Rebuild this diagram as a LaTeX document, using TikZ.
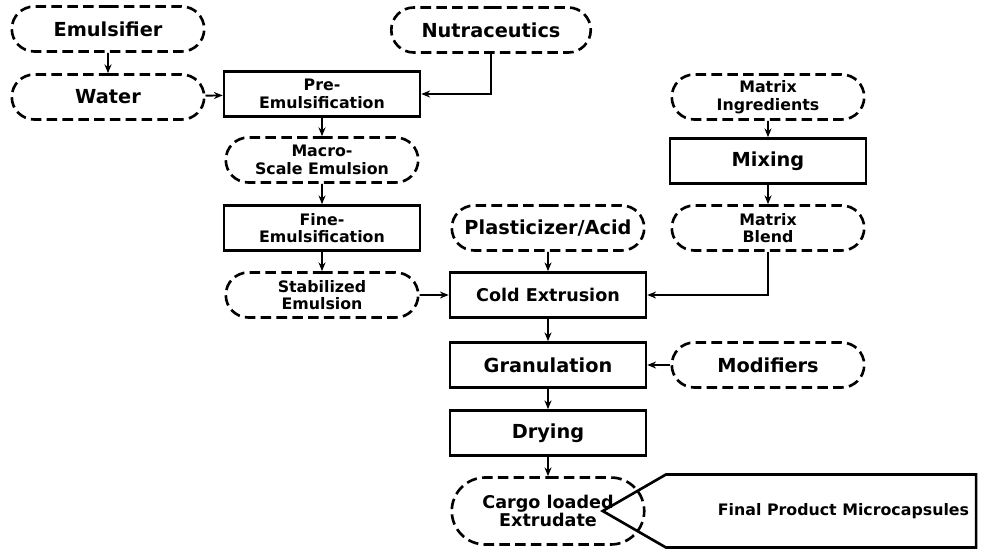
\documentclass[tikz,border=0pt]{standalone}
\usepackage{fontspec}
\setmainfont{DejaVu Sans}
\usetikzlibrary{shapes.misc,shapes.symbols,arrows.meta}
\begin{document}
\begin{tikzpicture}[x=0.02cm,y=-0.02cm,
  base/.style={draw,line width=1.5pt,minimum width=196\pgflinewidth/1.5,align=center,font=\bfseries\fontsize{9}{10}\selectfont,inner sep=1pt},
  box/.style={base,rectangle,minimum width=3.92cm,minimum height=0.9cm},
  oval/.style={base,rounded rectangle,dash pattern=on 6pt off 3pt,minimum width=3.92cm,minimum height=0.9cm},
  big/.style={font=\bfseries\fontsize{11}{13}\selectfont},
  arr/.style={-{Stealth[length=5pt,width=4pt]},line width=1.1pt}]
\useasboundingbox (0,0) rectangle (1000,554);
\node[oval,big] (emu) at (108,29) {Emulsifier};
\node[oval,big] (wat) at (108,97) {Water};
\node[oval,big,minimum width=4.06cm] (nut) at (491,30) {Nutraceutics};
\node[box] (pre) at (322,94) {Pre-\\Emulsification};
\node[oval] (mac) at (322,160) {Macro-\\Scale Emulsion};
\node[box] (fin) at (322,228) {Fine-\\Emulsification};
\node[oval] (sta) at (322,295) {Stabilized\\Emulsion};
\node[oval] (mi) at (768,97) {Matrix\\Ingredients};
\node[box,big] (mix) at (768,161) {Mixing};
\node[oval] (mb) at (768,228) {Matrix\\Blend};
\node[oval,big] (pla) at (548,228) {Plasticizer/Acid};
\node[box] (col) at (548,295) {\fontsize{10}{12}\selectfont Cold Extrusion};
\node[box,big] (gra) at (548,365) {Granulation};
\node[oval,big] (mod) at (768,365) {Modifiers};
\node[box,big] (dry) at (548,433) {Drying};
\node[oval,minimum height=1.34cm] (car) at (548,511) {\fontsize{10}{12}\selectfont Cargo loaded\\\fontsize{10}{12}\selectfont Extrudate};
\node[base,signal,signal to=west,signal pointer angle=60,minimum width=6.96cm,minimum height=1.46cm,inner xsep=4pt] (fp) at (821,511) {\hspace*{0.9cm}Final Product Microcapsules};
\draw[arr] (emu) -- (wat);
\draw[arr] (wat) -- (pre);
\draw[arr] (nut.south) |- (pre.east);
\draw[arr] (pre) -- (mac);
\draw[arr] (mac) -- (fin);
\draw[arr] (fin) -- (sta);
\draw[arr] (sta) -- (col);
\draw[arr] (mi) -- (mix);
\draw[arr] (mix) -- (mb);
\draw[arr] (mb.south) |- (col.east);
\draw[arr] (pla) -- (col);
\draw[arr] (col) -- (gra);
\draw[arr] (mod) -- (gra);
\draw[arr] (gra) -- (dry);
\draw[arr] (dry) -- (car);
\end{tikzpicture}
\end{document}
